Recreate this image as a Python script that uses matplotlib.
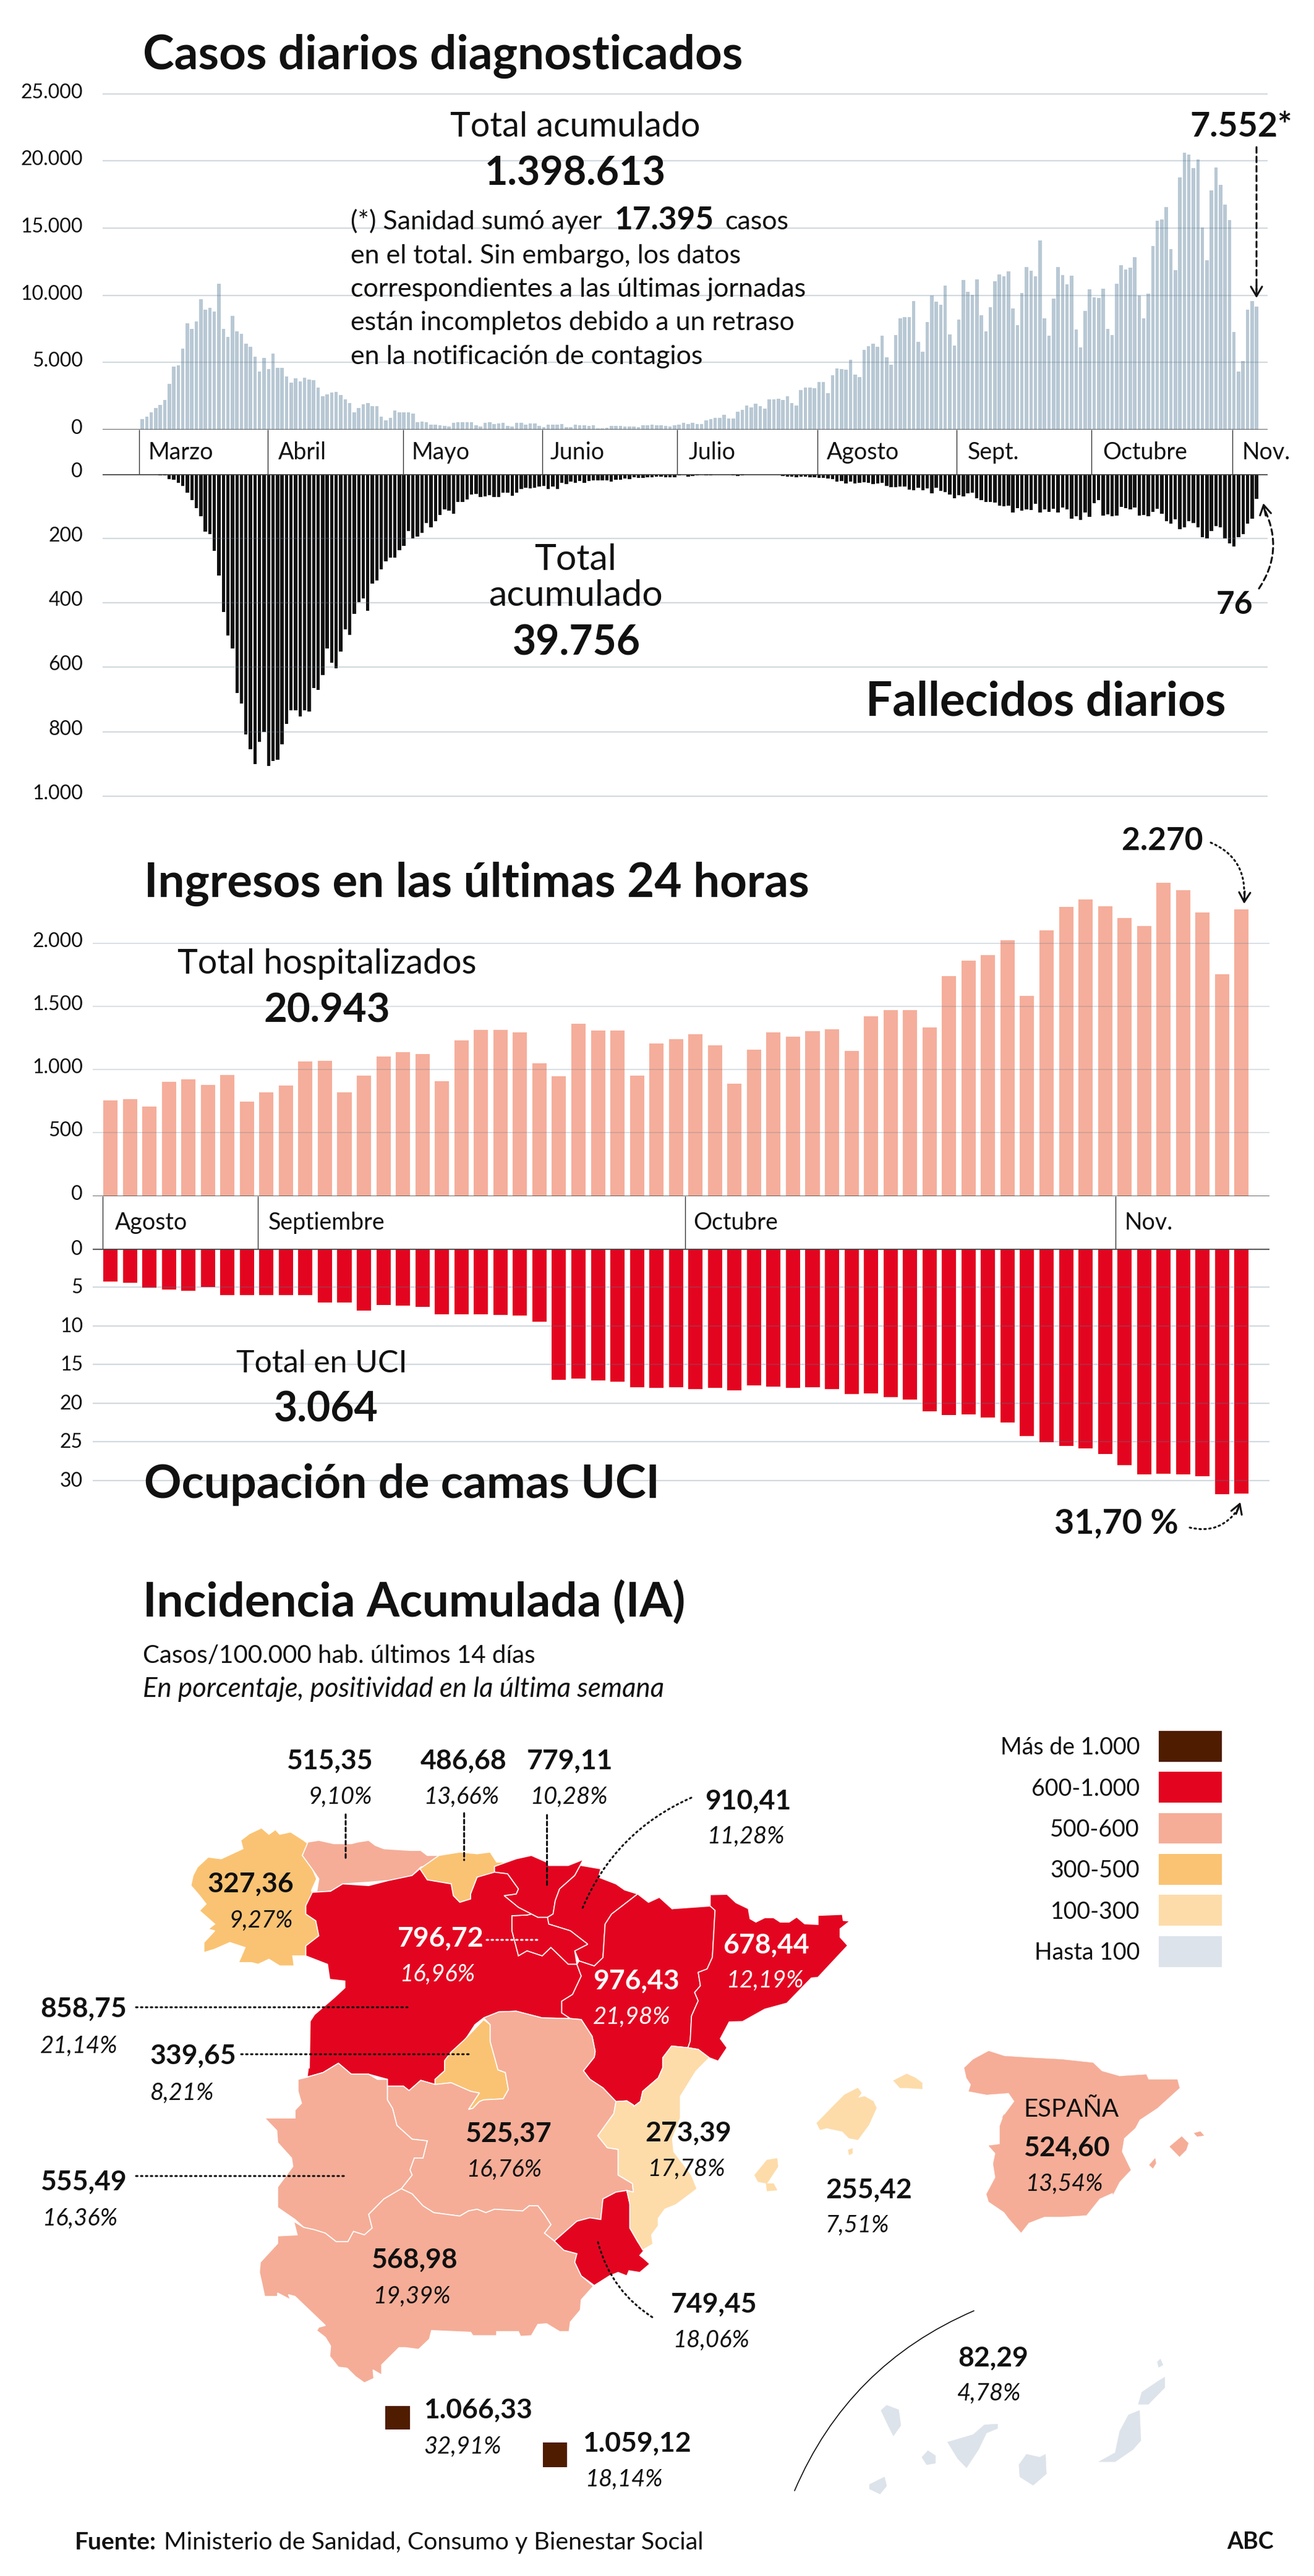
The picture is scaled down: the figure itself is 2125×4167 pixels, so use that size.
import numpy as np
import matplotlib
matplotlib.use("Agg")
import matplotlib.pyplot as plt
from matplotlib.patches import Polygon, Rectangle
from matplotlib.transforms import ScaledTranslation

plt.rcParams['font.family'] = ['Lato', 'DejaVu Sans']

W, H = 2125, 4167

# casos diarios (marzo - noviembre)
cases = [790, 970, 1280, 1630, 1825, 2200, 3400, 4700, 4790, 6030,
         7930, 7500, 8060, 9720, 8930, 9060, 8770, 10860, 7520, 6920,
         8470, 7320, 7150, 6410, 6170, 5430, 4330, 5360, 4510, 5670,
         4600, 4600, 3950, 3520, 3820, 3590, 3860, 3720, 3670, 3110,
         2470, 2630, 2780, 2810, 2570, 2270, 1990, 1300, 1610, 1910,
         1970, 1740, 1730, 950, 670, 890, 1430, 1300, 1300, 1300,
         1200, 560, 590, 540, 360, 360, 310, 260, 250, 510,
         530, 560, 530, 540, 310, 230, 510, 540, 430, 460,
         510, 280, 250, 510, 510, 360, 460, 440, 260, 180,
         360, 360, 380, 410, 200, 200, 360, 310, 300, 280,
         330, 100, 100, 130, 260, 260, 260, 250, 230, 210,
         180, 300, 330, 360, 330, 345, 260, 230, 345, 390,
         490, 430, 510, 410, 410, 670, 760, 870, 890, 1090,
         840, 810, 1330, 1460, 1780, 1660, 1940, 1730, 1550, 2250,
         2250, 2320, 2200, 2470, 1990, 1790, 2960, 3120, 3140, 3090,
         3550, 3550, 2710, 4050, 4540, 4510, 4470, 5200, 4110, 3910,
         5950, 6220, 6380, 6180, 7000, 5390, 4840, 7020, 8270, 8390,
         8390, 9560, 6550, 5790, 8010, 10000, 9540, 9310, 10720, 7070,
         6270, 8210, 11140, 10260, 10050, 11170, 8520, 7320, 9110, 11050,
         11550, 11430, 11790, 9030, 7780, 10180, 12090, 11810, 11430, 14080,
         8290, 6990, 9770, 12110, 11500, 10820, 11450, 7450, 6100, 8850,
         10440, 9840, 9800, 10490, 7500, 7040, 10870, 12250, 11920, 12070,
         12850, 10000, 8290, 10120, 13650, 15540, 15640, 16580, 13440, 11860,
         18800, 20630, 20480, 19480, 20130, 15070, 12630, 17810, 19520, 18240,
         16740, 15610, 7250, 4310, 5130, 8910, 9590, 9150]

# fallecidos diarios
deaths = [0, 0, 1, 1, 3, 3, 15, 17, 27, 36,
          57, 80, 105, 130, 179, 187, 239, 315, 429, 501,
          542, 680, 713, 809, 854, 901, 832, 801, 906, 890,
          887, 840, 775, 734, 734, 752, 734, 737, 665, 670,
          624, 542, 586, 602, 552, 482, 500, 434, 398, 386,
          424, 340, 330, 295, 270, 260, 259, 236, 222, 176,
          200, 194, 183, 151, 165, 145, 126, 110, 113, 123,
          87, 86, 78, 63, 62, 71, 69, 65, 71, 71,
          58, 57, 67, 58, 47, 43, 44, 43, 38, 36,
          47, 38, 46, 27, 31, 23, 27, 22, 27, 21,
          19, 19, 19, 19, 23, 17, 18, 14, 15, 9,
          12, 12, 9, 10, 8, 7, 9, 10, 10, 3,
          2, 8, 5, 3, 2, 3, 3, 2, 2, 2,
          2, 3, 5, 3, 2, 2, 2, 2, 2, 1,
          2, 2, 6, 7, 8, 10, 7, 8, 10, 10,
          12, 12, 14, 15, 23, 21, 29, 24, 29, 27,
          25, 26, 31, 29, 27, 36, 41, 40, 39, 38,
          48, 49, 43, 49, 45, 60, 43, 51, 56, 63,
          74, 65, 69, 60, 58, 75, 81, 86, 86, 89,
          98, 99, 98, 120, 106, 113, 110, 112, 93, 119,
          110, 118, 108, 119, 103, 110, 139, 130, 143, 120,
          132, 91, 80, 128, 125, 130, 128, 101, 106, 110,
          103, 128, 126, 130, 118, 108, 123, 145, 154, 141,
          171, 165, 146, 151, 165, 195, 199, 176, 162, 165,
          200, 215, 224, 195, 187, 154, 139, 77]

months_long = ['Marzo', 'Abril', 'Mayo', 'Junio', 'Julio', 'Agosto', 'Sept.', 'Octubre', 'Nov.']
month_ticks_long = [-0.75, 27.8, 57.9, 88.7, 118.5, 149.7, 180.5, 210.4, 241.6]
month_label_x = [240, 450, 666, 890, 1114, 1337, 1565, 1783, 2009]

# ingresos y UCI (agosto - noviembre)
admissions = [758, 765, 706, 904, 922, 880, 958, 749, 823, 875,
              1066, 1071, 823, 954, 1107, 1141, 1125, 909, 1231, 1316,
              1318, 1298, 1051, 949, 1366, 1312, 1312, 954, 1208, 1242,
              1282, 1192, 891, 1161, 1298, 1262, 1305, 1321, 1150, 1424,
              1474, 1474, 1336, 1741, 1863, 1908, 2025, 1586, 2103, 2292,
              2349, 2297, 2202, 2139, 2481, 2423, 2247, 1757, 2272]

icu = [4.29, 4.4, 5.09, 5.3, 5.49, 4.98, 6.02, 6.02, 6.02, 6.02,
       6.02, 7.0, 7.0, 7.99, 7.3, 7.41, 7.51, 8.5, 8.5, 8.5,
       8.6, 8.69, 9.49, 17.0, 16.84, 17.03, 17.19, 17.93, 17.99, 17.93,
       18.15, 17.99, 18.33, 17.67, 17.85, 18.04, 17.9, 18.2, 18.81, 18.76,
       19.24, 19.56, 21.05, 21.53, 21.48, 21.85, 22.49, 24.27, 25.05, 25.53,
       25.82, 26.59, 27.98, 29.18, 29.12, 29.23, 29.47, 31.76, 31.7]

months_short = ['Agosto', 'Septiembre', 'Octubre', 'Nov.']
month_ticks_short = [-0.41, 7.56, 29.46, 51.54]
month_short_x = [186, 434, 1121, 1819]

legend_labels = ['Más de 1.000', '600-1.000', '500-600', '300-500', '100-300', 'Hasta 100']
legend_colors = ['#4f1c00', '#e30520', '#f5ad97', '#fac373', '#fddcaa', '#dde3ea']
DARK, RED, SALMON, ORANGE, CREAM, GREY = legend_colors


# Pasar de coordenadas de recorte a pixeles del lienzo
def z9(pts):
    return [(x / 1.4255, 2500 + y / 1.845) for x, y in pts]

def z10(pts):
    return [(1000 + x / 1.394, 2700 + y / 1.845) for x, y in pts]

def z11(pts):
    return [(x / 1.4255, 3300 + y / 1.8085) for x, y in pts]

def z12(pts):
    return [(1000 + x / 1.394, 3400 + y / 2.044) for x, y in pts]


regions = [
    # Galicia
    (ORANGE, z9([(555, 880), (575, 860), (603, 843), (620, 862), (635, 848), (645, 862), (670, 855), (700, 880),
                 (710, 890), (697, 925), (720, 965), (730, 995), (718, 1030), (722, 1040), (705, 1075), (705, 1100),
                 (728, 1120), (735, 1165), (705, 1195), (705, 1225), (675, 1225), (678, 1255), (645, 1255), (620, 1235),
                 (595, 1250), (580, 1245), (550, 1245), (565, 1200), (530, 1185), (495, 1205), (470, 1215), (470, 1185),
                 (495, 1150), (480, 1145), (495, 1130), (460, 1090), (475, 1070), (460, 1045), (440, 1015), (445, 985),
                 (455, 960), (480, 930), (510, 935), (560, 905)])),
    # Asturias
    (SALMON, z9([(710, 885), (735, 880), (770, 890), (810, 890), (825, 885), (850, 880), (865, 895), (885, 905),
                 (945, 910), (970, 910), (985, 925), (1012, 925), (1012, 945), (970, 960), (950, 985), (920, 995),
                 (895, 1000), (850, 1005), (790, 1010), (762, 1032), (730, 1035), (735, 995), (722, 970), (697, 925)])),
    # Cantabria
    (ORANGE, z9([(1012, 925), (1060, 915), (1100, 920), (1130, 915), (1145, 945), (1170, 945), (1140, 960), (1140, 980),
                 (1100, 990), (1085, 1040), (1085, 1055), (1060, 1065), (1045, 1045), (1040, 1010), (985, 998), (968, 965)])),
    # Pais Vasco
    (RED, z9([(1140, 958), (1190, 935), (1225, 925), (1260, 945), (1265, 955), (1310, 955), (1345, 937), (1325, 985),
              (1290, 1025), (1280, 1060), (1275, 1100), (1262, 1110), (1240, 1110), (1225, 1100), (1195, 1080), (1162, 1045),
              (1190, 1040), (1195, 1025), (1170, 980), (1140, 975)])),
    # Navarra
    (RED, z9([(1345, 937), (1340, 955), (1385, 965), (1380, 990), (1420, 1010), (1440, 1028), (1470, 1040), (1410, 1100),
              (1395, 1130), (1390, 1230), (1370, 1255), (1335, 1240), (1325, 1210), (1355, 1190), (1315, 1150), (1265, 1130),
              (1262, 1110), (1275, 1100), (1280, 1060), (1290, 1025), (1325, 985)])),
    # La Rioja
    (RED, z9([(1180, 1105), (1215, 1103), (1225, 1100), (1240, 1110), (1262, 1110), (1265, 1130), (1315, 1150), (1355, 1190),
              (1325, 1210), (1330, 1250), (1310, 1250), (1270, 1200), (1250, 1225), (1215, 1210), (1195, 1225), (1180, 1150)])),
    # Castilla y Leon
    (RED, z9([(720, 1035), (762, 1032), (790, 1010), (850, 1015), (895, 1000), (950, 985), (968, 965), (985, 998),
              (1040, 1010), (1045, 1045), (1060, 1065), (1085, 1055), (1085, 1040), (1100, 990), (1140, 975), (1170, 980),
              (1195, 1025), (1190, 1040), (1162, 1045), (1195, 1080), (1225, 1100), (1215, 1103), (1180, 1105),
              (1180, 1150), (1195, 1225), (1215, 1210), (1250, 1225), (1270, 1200), (1310, 1250), (1330, 1250), (1340, 1285),
              (1320, 1340), (1295, 1360), (1295, 1395), (1315, 1412), (1250, 1410), (1190, 1390), (1150, 1392), (1115, 1410),
              (1095, 1430), (1070, 1480), (1040, 1520), (1025, 1540)])
         + z11([(1025, 90), (1003, 115), (1003, 130), (970, 118), (943, 148), (930, 135), (893, 135), (893, 115),
                (850, 100), (810, 100), (780, 68), (745, 95), (708, 108), (713, 60)])
         + z9([(713, 1560), (715, 1420), (725, 1400), (770, 1350), (795, 1320), (795, 1300), (760, 1295), (755, 1250),
               (705, 1225), (705, 1195), (735, 1165), (728, 1120), (705, 1100), (705, 1075)])),
    # Aragon
    (RED, z9([(1470, 1040), (1495, 1065), (1520, 1050), (1550, 1085)])
         + z10([(122, 715), (207, 707), (218, 720), (215, 790), (212, 860), (200, 895), (180, 905), (185, 945),
                (172, 965), (180, 990), (165, 1035), (162, 1110), (157, 1130), (120, 1125), (100, 1160), (100, 1190),
                (90, 1220), (55, 1260), (50, 1290), (35, 1305)])
         + z11([(1460, 190), (1445, 178), (1420, 180), (1390, 140), (1360, 115), (1345, 90), (1370, 50)])
         + z9([(1372, 1510), (1365, 1465), (1340, 1415), (1315, 1412), (1295, 1395), (1295, 1360), (1320, 1340), (1340, 1285),
               (1330, 1250), (1335, 1240), (1370, 1255), (1390, 1230), (1395, 1130), (1410, 1100)])),
    # Cataluna
    (RED, z10([(207, 673), (245, 672), (265, 697), (293, 715), (297, 745), (310, 755), (330, 742), (350, 742),
               (365, 755), (385, 755), (402, 740), (420, 760), (450, 762), (450, 735), (505, 732), (507, 750),
               (522, 752), (500, 775), (500, 800), (517, 825), (450, 920), (435, 922), (380, 997), (330, 1015),
               (280, 1052), (250, 1053), (230, 1103), (245, 1130), (225, 1170), (205, 1160), (180, 1135), (157, 1130),
               (162, 1110), (165, 1035), (180, 990), (172, 965), (185, 945), (180, 905), (200, 895), (212, 860),
               (215, 790), (218, 720), (207, 707)])),
    # Madrid
    (ORANGE, z9([(1115, 1415), (1130, 1430), (1130, 1480), (1148, 1565)])
         + z11([(1165, 95), (1172, 145), (1160, 172), (1115, 175), (1105, 180), (1090, 200), (1080, 203), (1105, 155),
                (1085, 150), (1040, 125), (1003, 130), (1003, 115), (1025, 90), (1025, 60), (1040, 35), (1070, 0)])),
    # Castilla-La Mancha
    (SALMON, z9([(1115, 1410), (1150, 1392), (1190, 1390), (1250, 1410), (1315, 1412), (1340, 1415), (1365, 1465), (1372, 1510)])
         + z11([(1370, 50), (1345, 90), (1360, 115), (1390, 140), (1420, 180), (1415, 215), (1378, 280), (1400, 315),
                (1425, 320), (1425, 395), (1458, 420), (1460, 445), (1445, 440), (1420, 445), (1390, 465), (1385, 525),
                (1360, 520), (1330, 530), (1278, 588), (1255, 565), (1270, 540), (1255, 510), (1240, 485), (1220, 485),
                (1205, 500), (1140, 495), (1120, 505), (1100, 495), (1080, 500), (1060, 515), (1000, 505), (975, 485),
                (950, 450), (925, 435), (950, 395), (945, 380), (955, 345), (975, 345), (985, 295), (950, 290),
                (915, 250), (905, 200), (893, 175), (893, 135), (930, 135), (943, 148), (970, 118), (1003, 130),
                (1040, 125), (1085, 150), (1105, 155), (1080, 203), (1090, 200), (1105, 180), (1115, 175), (1160, 172),
                (1172, 145), (1165, 95), (1148, 87)])
         + z9([(1130, 1480), (1130, 1430)])),
    # Extremadura
    (SALMON, z11([(687, 115), (710, 108), (745, 95), (780, 68), (810, 100), (850, 100), (870, 115), (893, 115),
                  (893, 175), (905, 200), (915, 250), (950, 290), (985, 295), (975, 345), (955, 345), (945, 380),
                  (950, 395), (925, 435), (885, 465), (850, 510), (858, 550), (840, 570), (815, 560), (802, 590),
                  (775, 590), (750, 565), (725, 555), (700, 548), (680, 525), (640, 490), (640, 430), (675, 370),
                  (672, 345), (640, 300), (638, 265), (610, 228), (680, 228), (680, 205), (695, 185), (687, 150)])),
    # Andalucia
    (SALMON, z11([(685, 570), (677, 530), (700, 548), (725, 555), (750, 565), (775, 590), (802, 590), (815, 560),
                  (840, 570), (858, 550), (850, 510), (885, 465), (925, 435), (950, 450), (975, 485), (1000, 505),
                  (1060, 515), (1080, 500), (1100, 495), (1120, 505), (1140, 495), (1205, 500), (1220, 485), (1240, 485),
                  (1255, 510), (1270, 540), (1255, 565), (1278, 588), (1300, 615), (1330, 625), (1325, 650), (1340, 690),
                  (1368, 720), (1340, 760), (1338, 790), (1315, 825), (1312, 853), (1290, 853), (1260, 830), (1240, 832),
                  (1225, 865), (1200, 867), (1195, 853), (1145, 853), (1145, 865), (1090, 865), (1085, 855), (995, 850),
                  (990, 875), (965, 905), (935, 900), (920, 900), (880, 950), (880, 980), (860, 965), (862, 990),
                  (840, 1003), (820, 985), (800, 960), (780, 957), (760, 925), (762, 895), (750, 870), (730, 850),
                  (735, 840), (750, 835), (680, 750), (665, 745), (670, 760), (640, 740), (640, 750), (610, 750),
                  (605, 720), (598, 680), (600, 650), (640, 595), (640, 573)])),
    # Murcia
    (RED, z11([(1278, 588), (1330, 530), (1360, 520), (1385, 525), (1390, 465), (1420, 445), (1445, 440), (1452, 480),
               (1452, 550), (1470, 590), (1485, 615), (1475, 630), (1485, 640), (1498, 655), (1475, 680), (1450, 675),
               (1445, 690), (1425, 680), (1405, 690), (1370, 718), (1340, 690), (1325, 650), (1330, 625), (1300, 615)])),
    # Comunidad Valenciana
    (CREAM, z10([(120, 1125), (157, 1130), (180, 1135), (205, 1160), (175, 1200), (140, 1275), (140, 1340), (122, 1400),
                 (125, 1440), (165, 1510), (180, 1560)])
         + z12([(180, 285), (130, 340), (105, 355), (90, 385), (90, 410), (75, 440), (78, 470), (55, 490)])
         + z11([(1452, 550), (1452, 480), (1445, 440), (1460, 445), (1458, 420), (1425, 395), (1425, 320), (1400, 315),
                (1378, 280), (1415, 215), (1420, 180), (1445, 178), (1460, 190)])
         + z10([(35, 1305), (50, 1290), (55, 1260), (90, 1220), (100, 1190), (100, 1160)])),
]

islands = [
    (CREAM, z10([(447, 1355), (480, 1310), (510, 1270), (540, 1250), (548, 1265), (540, 1280), (555, 1275), (575, 1290),
                 (582, 1310), (565, 1360), (540, 1405), (520, 1400), (505, 1380), (470, 1370), (455, 1375)])),
    (CREAM, z10([(620, 1228), (650, 1208), (670, 1220), (685, 1235), (685, 1253), (650, 1250), (635, 1250)])),
    (CREAM, z10([(307, 1510), (335, 1465), (358, 1460), (360, 1485), (335, 1535), (315, 1530)])),
    (CREAM, z12([(333, 270), (350, 270), (358, 292), (335, 295)])),
    (CREAM, z10([(518, 1435), (528, 1430), (528, 1445), (520, 1450)])),
    # mapa pequeno de Espana
    (SALMON, z10([(780, 1190), (800, 1165), (835, 1140), (870, 1155), (930, 1160), (1000, 1165), (1070, 1175), (1090, 1200),
                  (1130, 1215), (1190, 1210), (1195, 1225), (1260, 1225), (1265, 1250), (1215, 1310), (1175, 1345), (1165, 1370),
                  (1140, 1400), (1135, 1440), (1155, 1495), (1130, 1530), (1115, 1568)])
         + z12([(1115, 300), (1085, 320), (1055, 375), (1000, 380), (960, 380), (925, 400), (908, 432), (880, 385),
                (870, 365), (835, 330), (830, 305), (850, 250), (845, 205), (850, 170), (835, 145), (860, 140),
                (860, 80), (870, 40)])
         + z10([(865, 1340), (893, 1290), (880, 1265), (830, 1270), (790, 1260), (795, 1240), (785, 1220)])),
    (SALMON, z10([(1243, 1425), (1270, 1395), (1285, 1415), (1280, 1435), (1265, 1455)])),
    (SALMON, z10([(1298, 1385), (1312, 1380), (1320, 1392), (1305, 1395)])),
    (SALMON, z10([(1197, 1480), (1210, 1460), (1212, 1475), (1205, 1490)])),
    # Canarias
    (GREY, z12([(592, 1020), (605, 1003), (632, 1018), (637, 1070), (620, 1105), (608, 1070)])),
    (GREY, z12([(742, 1125), (800, 1100), (825, 1068), (855, 1065), (855, 1080), (830, 1095), (812, 1150), (785, 1210), (765, 1180)])),
    (GREY, z12([(684, 1175), (698, 1153), (715, 1170), (715, 1195), (695, 1200)])),
    (GREY, z12([(566, 1265), (600, 1240), (605, 1270), (590, 1297), (566, 1280)])),
    (GREY, z12([(903, 1200), (920, 1165), (950, 1175), (963, 1165), (965, 1230), (935, 1268), (905, 1240)])),
    (GREY, z12([(1083, 1190), (1120, 1160), (1130, 1090), (1150, 1035), (1175, 1020), (1178, 1120), (1160, 1150), (1120, 1190)])),
    (GREY, z12([(1172, 1000), (1180, 960), (1215, 925), (1232, 910), (1232, 945), (1195, 1000)])),
    (GREY, z12([(1215, 860), (1222, 850), (1228, 870), (1218, 878)])),
]

# valor, positividad, x y base del valor, x y base del porcentaje, color
region_labels = [
    ('515,35', '9,10%', 463, 2862, 498, 2918, 'k'),
    ('486,68', '13,66%', 680, 2862, 685, 2918, 'k'),
    ('779,11', '10,28%', 852, 2862, 857, 2918, 'k'),
    ('910,41', '11,28%', 1140, 2927, 1143, 2982, 'k'),
    ('327,36', '9,27%', 335, 3061, 370, 3118, 'k'),
    ('796,72', '16,96%', 643, 3149, 646, 3205, 'w'),
    ('976,43', '21,98%', 959, 3218, 959, 3274, 'w'),
    ('678,44', '12,19%', 1169, 3160, 1174, 3215, 'w'),
    ('858,75', '21,14%', 65, 3263, 65, 3321, 'k'),
    ('339,65', '8,21%', 242, 3339, 242, 3397, 'k'),
    ('525,37', '16,76%', 752, 3465, 754, 3521, 'k'),
    ('273,39', '17,78%', 1043, 3464, 1047, 3520, 'k'),
    ('255,42', '7,51%', 1335, 3556, 1335, 3611, 'k'),
    ('555,49', '16,36%', 65, 3543, 68, 3600, 'k'),
    ('568,98', '19,39%', 600, 3669, 603, 3726, 'k'),
    ('749,45', '18,06%', 1085, 3741, 1088, 3797, 'k'),
    ('82,29', '4,78%', 1549, 3828, 1548, 3883, 'k'),
    ('1.066,33', '32,91%', 685, 3912, 685, 3969, 'k'),
    ('1.059,12', '18,14%', 942, 3966, 946, 4022, 'k'),
    ('524,60', '13,54%', 1655, 3488, 1658, 3544, 'k'),
]

fig = plt.figure(figsize=(W / 100, H / 100), dpi=100, facecolor='white')


def px_axes(left, top, right, bottom):
    return fig.add_axes([left / W, 1 - bottom / H, (right - left) / W, (bottom - top) / H])


def style_bars(ax, ticks, pad_px, shift_px, grid_lw):
    ax.set_yticks(ticks)
    ax.set_yticklabels([f"{v:,}".replace(",", ".") for v in ticks], fontsize=23, color='#111111')
    ax.set_xticks([])
    ax.tick_params(axis='y', length=0, pad=pad_px * 0.72)
    for side in ax.spines.values():
        side.set_visible(False)
    ax.patch.set_alpha(0)
    ax.grid(axis='y', color='#5f7a8c', alpha=0.28, lw=grid_lw)
    ax.set_axisbelow(False)
    ax.axhline(0, color='#444444', lw=1.8, zorder=4)
    for lbl in ax.get_yticklabels():
        lbl.set_transform(lbl.get_transform() + ScaledTranslation(0, shift_px / 100, fig.dpi_scale_trans))


# Casos diarios
long_x = (-8.77, 249.45)
ax1 = px_axes(166, 152 - 11, 2050, 695)
ax1.bar(np.arange(len(cases)), cases, width=0.76, color='#b8c8d4', lw=0)
ax1.set_xlim(long_x)
ax1.set_ylim(0, 25500)
style_bars(ax1, [0, 5000, 10000, 15000, 20000, 25000], 32, 5, 1.6)

# Fallecidos diarios
ax2 = px_axes(166, 767, 2050, 1293)
ax2.bar(np.arange(len(deaths)), deaths, width=0.74, color='#111111', lw=0)
ax2.set_xlim(long_x)
ax2.set_ylim(1010, 0)
style_bars(ax2, [0, 200, 400, 600, 800, 1000], 32, 7, 1.6)

# Banda de meses
band1 = px_axes(166, 695, 2050, 767)
band1.set_xlim(long_x)
band1.set_ylim(0, 1)
band1.vlines(month_ticks_long, 0, 1, color='#333333', lw=1.0)
band1.axis('off')

# Ingresos
short_x = (-0.904, 59.43)
ax3 = px_axes(150, 1400, 2053, 1934.5)
ax3.bar(np.arange(len(admissions)), admissions, width=0.73, color='#f5ae9b', lw=0)
ax3.set_xlim(short_x)
ax3.set_ylim(0, (1934.5 - 1400) / 0.20405)
style_bars(ax3, [0, 500, 1000, 1500, 2000], 16, 6, 1.2)

# Ocupacion UCI
ax4 = px_axes(150, 2019.7, 2053, 2420.7)
ax4.bar(np.arange(len(icu)), icu, width=0.73, color=RED, lw=0)
ax4.set_xlim(short_x)
ax4.set_ylim(32.05, 0)
style_bars(ax4, [0, 5, 10, 15, 20, 25, 30], 16, 2, 1.6)

band2 = px_axes(150, 1934.5, 2053, 2019.7)
band2.set_xlim(short_x)
band2.set_ylim(0, 1)
band2.vlines(month_ticks_short, 0, 1, color='#333333', lw=1.0)
band2.axis('off')

# Capa de textos y mapa, en pixeles
ov = fig.add_axes([0, 0, 1, 1], zorder=10)
ov.set_xlim(0, W)
ov.set_ylim(H, 0)
ov.axis('off')


def txt(x, y, s, size=27, weight='normal', style='normal', color='#111111', ha='left'):
    ov.text(x, y, s, fontsize=size, fontweight=weight, fontstyle=style, color=color,
            ha=ha, va='baseline', zorder=8)


def curve(start, end, rad, ls=(0, (0.8, 1.8)), lw=2.2, color='#111111'):
    ov.annotate('', xy=end, xytext=start, zorder=7,
                arrowprops=dict(arrowstyle='-', connectionstyle=f'arc3,rad={rad}', shrinkA=0, shrinkB=0,
                                color=color, lw=lw, linestyle=ls))


def arrow_tip(tip, frm):
    ov.annotate('', xy=tip, xytext=frm, zorder=7,
                arrowprops=dict(arrowstyle='->,head_length=1.1,head_width=0.65', shrinkA=0, shrinkB=0,
                                color='#111111', lw=2.2))


TITLE = 55
txt(231, 112, 'Casos diarios diagnosticados', TITLE, 'bold')
txt(1400, 1158, 'Fallecidos diarios', TITLE, 'bold')
txt(233, 1451, 'Ingresos en las últimas 24 horas', TITLE, 'bold')
txt(233, 2423, 'Ocupación de camas UCI', 54, 'bold')
txt(231, 2615, 'Incidencia Acumulada (IA)', TITLE, 'bold')

for lab, x in zip(months_long, month_label_x):
    txt(x, 743, lab, 27)
for lab, x in zip(months_short, month_short_x):
    txt(x, 1989, lab, 27)

# Totales
txt(930, 221, 'Total acumulado', 40, ha='center')
txt(930, 300, '1.398.613', 46.5, 'bold', ha='center')
txt(567, 371, '(*) Sanidad sumó ayer', 31)
txt(994, 371, '17.395', 37, 'bold')
txt(1172, 371, 'casos', 31)
txt(567, 426, 'en el total. Sin embargo, los datos', 31)
txt(567, 480, 'correspondientes a las últimas jornadas', 31)
txt(567, 534, 'están incompletos debido a un retraso', 31)
txt(567, 589, 'en la notificación de contagios', 31)
txt(2090, 221, '7.552*', 40, 'bold', ha='right')
curve((2032, 238), (2032, 470), 0, ls=(0, (3, 2)))
arrow_tip((2032, 482), (2032, 462))

txt(931, 922, 'Total', 42.5, ha='center')
txt(931, 980, 'acumulado', 42.5, ha='center')
txt(932, 1060, '39.756', 47.5, 'bold', ha='center')
txt(2026, 993, '76', 37, 'bold', ha='right')
curve((2036, 952), (2046, 826), 0.28, ls=(0, (3, 2)))
arrow_tip((2043, 814), (2047, 834))

txt(529, 1575, 'Total hospitalizados', 40, ha='center')
txt(529, 1653, '20.943', 47, 'bold', ha='center')
txt(1946, 1375, '2.270', 37, 'bold', ha='right')
curve((1958, 1363), (2012, 1450), -0.35)
arrow_tip((2012, 1462), (2013, 1442))

txt(520, 2220, 'Total en UCI', 36, ha='center')
txt(527, 2300, '3.064', 47.5, 'bold', ha='center')
txt(1705, 2480, '31,70 %', 40, 'bold')
curve((1924, 2471), (2003, 2440), 0.35)
arrow_tip((2006, 2430), (1999, 2449))

# Mapa
for color, pts in regions:
    ov.add_patch(Polygon(pts, closed=True, facecolor=color, edgecolor='white', lw=1.2, zorder=3))
for color, pts in islands:
    ov.add_patch(Polygon(pts, closed=True, facecolor=color, edgecolor=color, lw=0.3, zorder=3))

txt(231, 2690, 'Casos/100.000 hab. últimos 14 días', 29)
txt(231, 2745, 'En porcentaje, positividad en la última semana', 31.5, style='italic')

for value, pct, vx, vy, px, py, col in region_labels:
    c = 'white' if col == 'w' else '#111111'
    txt(vx, vy, value, 32, 'bold', color=c)
    txt(px, py, pct, 27.5, style='italic', color=c)
txt(1655, 3424, 'ESPAÑA', 29)

# Lineas guia
curve((559, 2935), (559, 3007), 0, ls=(0, (2, 1.5)))
curve((750.6, 2933), (750.6, 3009), 0, ls=(0, (2, 1.5)))
curve((884.6, 2936), (884.6, 3050), 0, ls=(0, (2, 1.5)))
curve((1118, 2908), (941, 3089), 0.2)
curve((787, 3138), (870, 3138), 0, color='white')
curve((220, 3247), (659, 3247), 0)
curve((390, 3323), (761, 3323), 0)
curve((220, 3520), (559, 3520), 0)
curve((967, 3627), (1059, 3751), 0.2)
curve((1285, 4029), (1575, 3738), -0.2, ls='-', lw=1.2)

# Leyenda
legend_top = [2800, 2866, 2932.5, 2999, 3065, 3132]
legend_base = [2838, 2905, 2971, 3037, 3104, 3170]
for lab, col, top, base in zip(legend_labels, legend_colors, legend_top, legend_base):
    ov.add_patch(Rectangle((1874, top), 102, 49.5, facecolor=col, lw=0, zorder=3))
    txt(1843, base, lab, 27, ha='right')

# Ceuta y Melilla
ov.add_patch(Rectangle((623, 3892), 40, 38, facecolor=DARK, lw=0, zorder=3))
ov.add_patch(Rectangle((878, 3951), 39, 40, facecolor=DARK, lw=0, zorder=3))

txt(121, 4124, 'Fuente:', 28, 'bold')
txt(265, 4124, 'Ministerio de Sanidad, Consumo y Bienestar Social', 28.4)
txt(2060, 4123, 'ABC', 27, 'bold', ha='right')

fig.savefig('out.png', dpi=100, facecolor='white')
